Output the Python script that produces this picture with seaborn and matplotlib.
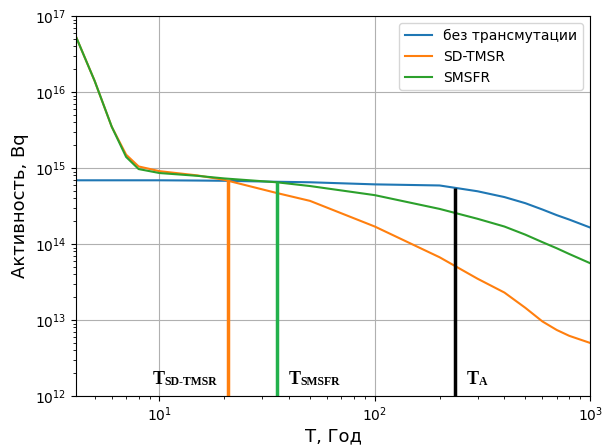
import matplotlib
matplotlib.use("Agg")
import matplotlib.pyplot as plt
from matplotlib.ticker import LogLocator, NullFormatter
import numpy as np
import pandas as pd
import seaborn as sns

# time points (years) and activity (Bq)
years = [4.1, 5, 6, 7, 8, 10, 15, 20, 35, 50, 100, 200, 300, 400, 500, 600, 700, 800, 1000]
no_transm = [6.9e14, 6.9e14, 6.9e14, 6.9e14, 6.9e14, 6.9e14, 6.85e14, 6.8e14, 6.6e14,
             6.5e14, 6.1e14, 5.9e14, 4.95e14, 4.15e14, 3.45e14, 2.85e14, 2.4e14, 2.1e14, 1.65e14]
sd_tmsr = [5.3e16, 1.4e16, 3.5e15, 1.5e15, 1.05e15, 9.1e14, 8.0e14, 7.0e14, 4.7e14,
           3.7e14, 1.7e14, 6.7e13, 3.5e13, 2.3e13, 1.45e13, 9.6e12, 7.4e12, 6.2e12, 5.0e12]
smsfr = [5.3e16, 1.4e16, 3.5e15, 1.4e15, 9.7e14, 8.6e14, 7.9e14, 7.3e14, 6.5e14,
         5.8e14, 4.4e14, 2.9e14, 2.15e14, 1.7e14, 1.33e14, 1.06e14, 8.8e13, 7.4e13, 5.6e13]
series_names = ["без трансмутации", "SD-TMSR", "SMSFR"]

# marker times and the activity where each marker line stops
t_marks = [20.7, 35.3, 236]
t_tops = [6.9e14, 6.5e14, 5.5e14]
t_colors = ["#ff7f0e", "#22b14c", "black"]
t_subs = ["SD-TMSR", "SMSFR", "A"]
t_text_x = [9.3, 40.0, 268]

df = pd.DataFrame({
    "T": years * 3,
    "A": no_transm + sd_tmsr + smsfr,
    "series": [series_names[0]] * len(years) + [series_names[1]] * len(years)
              + [series_names[2]] * len(years),
})

fig = plt.figure(figsize=(6.04, 4.46), dpi=100)
ax = fig.add_axes([0.126, 0.112, 0.851, 0.852])

sns.lineplot(data=df, x="T", y="A", hue="series", hue_order=series_names,
             palette=["#1f77b4", "#ff7f0e", "#2ca02c"], linewidth=1.5, ax=ax)

ax.set_xscale("log")
ax.set_yscale("log")
ax.set_xlim(4.1, 1000)
ax.set_ylim(1e12, 1e17)
for axis in (ax.xaxis, ax.yaxis):
    axis.set_minor_locator(LogLocator(base=10, subs=np.arange(2, 10), numticks=100))
    axis.set_minor_formatter(NullFormatter())
ax.grid(True, which="major", color="#b0b0b0", linewidth=0.8)

ax.vlines(t_marks, 1e12, t_tops, colors=t_colors, linewidth=2.5)

for xt, sub in zip(t_text_x, t_subs):
    ax.annotate("T", xy=(xt, 1.45e12), xycoords="data", fontsize=13,
                fontweight="bold", family="Liberation Serif", va="baseline")
    ax.annotate(sub, xy=(xt, 1.45e12), xycoords="data", xytext=(8.5, -1),
                textcoords="offset points", fontsize=8.5, fontweight="bold",
                family="Liberation Serif", va="baseline")

ax.set_xlabel("Т, Год", fontsize=13, labelpad=2)
ax.set_ylabel("Активность, Bq", fontsize=13)
ax.legend(loc="upper right", fontsize=10)

fig.savefig("out.png", dpi=100)
